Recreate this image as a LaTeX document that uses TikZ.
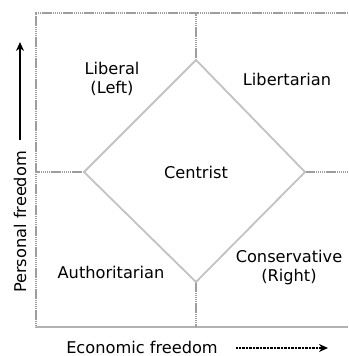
\documentclass[tikz,border=0pt]{standalone}
\usepackage{fontspec}
\setmainfont{DejaVu Sans}
\usetikzlibrary{arrows.meta}
\begin{document}
\begin{tikzpicture}[x=1pt,y=-1pt,
  lbl/.style={font=\fontsize{16.2}{19}\selectfont, align=center, inner sep=0pt},
  diam/.style={draw=black!24, line width=1.8pt, line join=miter},
  dots/.style={draw=black!38, line width=2.4pt, dash pattern=on 1.5pt off 0.6pt},
  framesolid/.style={draw=black!30, line width=1.8pt},
  axisarrow/.style={-{Stealth[length=9pt,width=8pt]}, line width=1.4pt},
]
\useasboundingbox (0,0) rectangle (348,356);
% frame corners
\coordinate (TL) at (36,13);
\coordinate (TR) at (348,13);
\coordinate (BL) at (36,327);
\coordinate (BR) at (348,327);
% diamond vertices
\coordinate (T) at (196,60);
\coordinate (L) at (84,172);
\coordinate (R) at (305,172);
\coordinate (B) at (196,282);
% ends of dotted dividers
\coordinate (Ttop) at (196,13);
\coordinate (Bbot) at (196,327);
\coordinate (Lleft) at (36,172);
\coordinate (Rright) at (348,172);
% frame
\draw[dots] (TR) -- (TL) -- (BL);
\draw[framesolid] (BL) -- (BR);
% dividers
\draw[dots] (T) -- (Ttop);
\draw[dots] (B) -- (Bbot);
\draw[dots] (L) -- (Lleft);
\draw[dots] (R) -- (Rright);
% diamond
\draw[diam] (T) -- (R) -- (B) -- (L) -- cycle;
% labels
\node[lbl] (liberal) at (112,79) {Liberal\\(Left)};
\node[lbl] (libertarian) at (287,79) {Libertarian};
\node[lbl] (centrist) at (196,172) {Centrist};
\node[lbl] (authoritarian) at (111,272) {Authoritarian};
\node[lbl] (conservative) at (289,268) {Conservative\\(Right)};
% axes
\node[lbl, rotate=90] (personal) at (20,222) {Personal freedom};
\coordinate (va1) at (20,140);
\coordinate (va2) at (20,42);
\draw[axisarrow] (va1) -- (va2);
\node[lbl, anchor=base] (economic) at (142,353) {Economic freedom};
\coordinate (ha1) at (236,348);
\coordinate (ha2) at (328,348);
\draw[axisarrow, line width=1.6pt, dash pattern=on 1pt off 0.4pt] (ha1) -- (ha2);
\end{tikzpicture}
\end{document}
